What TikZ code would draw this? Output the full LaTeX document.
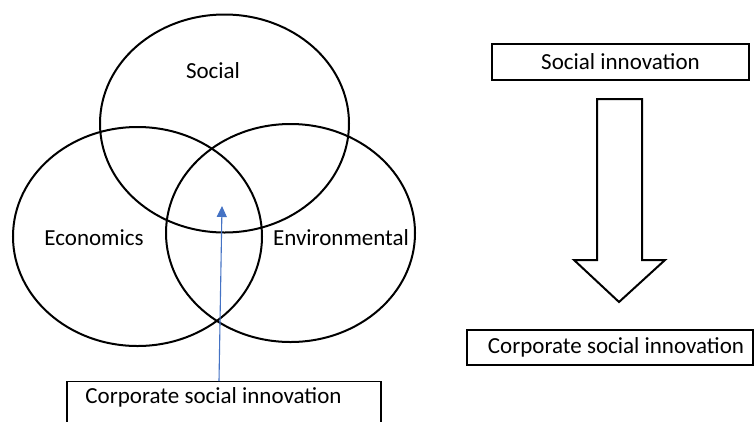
\documentclass[tikz,border=0pt]{standalone}
\usepackage{fontspec}
\setmainfont{Carlito}
\usetikzlibrary{shapes.geometric,arrows.meta}
\definecolor{arrowblue}{RGB}{68,114,196}
\begin{document}
\begin{tikzpicture}[x=1pt,y=-1pt,
  venn/.style={draw=black,line width=2pt,ellipse,minimum width=249pt,minimum height=218pt,inner sep=0pt},
  lbl/.style={font=\fontsize{23}{27}\selectfont,inner sep=0pt},
  txtbox/.style={draw=black,line width=1.1pt,font=\fontsize{23}{27}\selectfont,inner sep=0pt},
  blockarrow/.style={draw=black,line width=2pt,line join=miter,fill=white}]
\clip (0,0) rectangle (754,421);
\fill[white] (0,0) rectangle (754,421);
% Venn ellipses
\node[venn] (soc) at (224.5,123.5) {};
\node[venn,minimum height=219pt] (eco) at (137.5,236.5) {};
\node[venn] (env) at (290.5,233) {};
% labels
\node[lbl] (socl) at (213,71) {Social};
\node[lbl] (ecol) at (94,238) {Economics};
\node[lbl] (envl) at (341,238) {Environmental};
% bottom-left box
\node[txtbox,anchor=north,minimum width=314pt,text height=22pt,text depth=60pt] (csi) at (224,381) {Corporate social innovation\hspace*{21pt}};
\coordinate (tail) at (219,381);
\coordinate (tip) at (222,206);
\draw[arrowblue,line width=1.1pt,-{Triangle[length=11pt,width=10pt]}] (tail) -- (tip);
% right side
\node[txtbox,minimum width=257pt,minimum height=36pt] (si) at (620.5,62) {Social innovation};
\node[txtbox,minimum width=286pt,minimum height=35pt] (csi2) at (610,347.5) {\hspace*{12pt}Corporate social innovation};
\coordinate (a1) at (597,99);
\coordinate (a2) at (642,99);
\coordinate (a3) at (642,260);
\coordinate (a4) at (665,260);
\coordinate (a5) at (619,302);
\coordinate (a6) at (574,260);
\coordinate (a7) at (597,260);
\draw[blockarrow] (a1) -- (a2) -- (a3) -- (a4) -- (a5) -- (a6) -- (a7) -- cycle;
\end{tikzpicture}
\end{document}
